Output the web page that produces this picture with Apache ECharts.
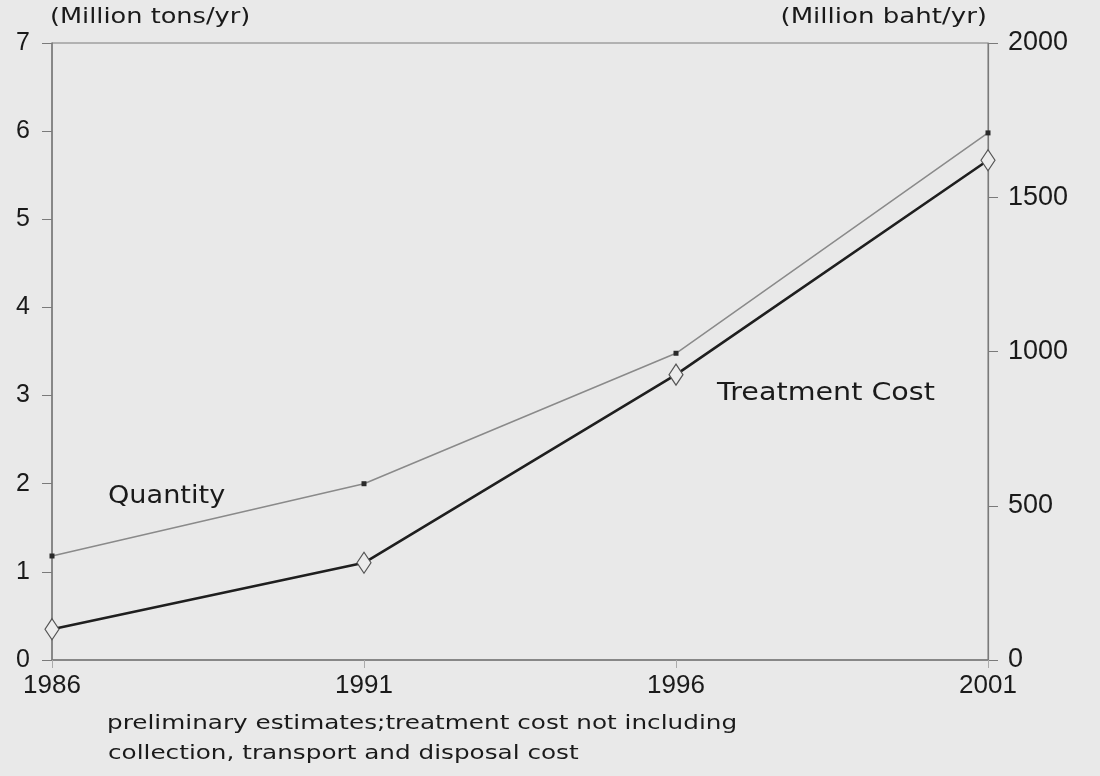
<!DOCTYPE html>
<html>
<head>
<meta charset="utf-8">
<script src="https://cdn.jsdelivr.net/npm/echarts@6/dist/echarts.min.js"></script>
<style>
  html, body { margin: 0; padding: 0; background: #e9e9e9; }
  #main { width: 1100px; height: 776px; }
</style>
</head>
<body>
<div id="main"></div>
<script>
// data
var years = ['1986', '1991', '1996', '2001'];
var quantity = [1.18, 2.0, 3.48, 5.98];        // million tons/yr (left axis)
var treatmentCost = [100, 315, 925, 1620];     // million baht/yr (right axis)
var leftTicks = [0, 1, 2, 3, 4, 5, 6, 7];
var rightTicks = [0, 500, 1000, 1500, 2000];

var chart = echarts.init(document.getElementById('main'), null, { renderer: 'canvas' });

var axisCol = '#7a7a7a';
var textCol = '#1a1a1a';

// the scanned labels are letter-spaced, so stretch them a little
function label(text, x, y, size, scale, align) {
  return {
    type: 'text', x: x, y: y, scaleX: scale,
    style: {
      text: text, fill: textCol, font: size + 'px "DejaVu Sans"',
      textAlign: align || 'left', textVerticalAlign: 'middle'
    }
  };
}

var option = {
  backgroundColor: '#e9e9e9',
  animation: false,
  grid: {
    left: 52, right: 112, top: 43, bottom: 116,
    show: true, borderColor: axisCol, borderWidth: 1, backgroundColor: 'transparent'
  },
  xAxis: {
    type: 'category',
    data: years,
    boundaryGap: false,
    axisLine: { lineStyle: { color: axisCol, width: 1.5 } },
    axisTick: { show: true, length: 8, lineStyle: { color: '#aaa' } },
    axisLabel: { color: textCol, fontSize: 26, fontFamily: 'Liberation Sans', margin: 13 },
    splitLine: { show: false }
  },
  yAxis: [{
    type: 'value',
    min: leftTicks[0], max: leftTicks[leftTicks.length - 1], interval: 1,
    axisLine: { show: true, lineStyle: { color: axisCol, width: 1.5 } },
    axisTick: { show: true, length: 10, lineStyle: { color: axisCol } },
    axisLabel: { color: textCol, fontSize: 25, fontFamily: 'Liberation Sans', margin: 22 },
    splitLine: { show: false }
  }, {
    type: 'value',
    position: 'right',
    min: rightTicks[0], max: rightTicks[rightTicks.length - 1], interval: 500,
    axisLine: { show: true, lineStyle: { color: axisCol, width: 1.2 } },
    axisTick: { show: true, length: 10, lineStyle: { color: axisCol } },
    axisLabel: {
      color: textCol, fontSize: 27, fontFamily: 'Liberation Sans', margin: 20,
      formatter: function (v) { return String(v); }
    },
    splitLine: { show: false }
  }],
  series: [{
    name: 'Quantity',
    type: 'line',
    yAxisIndex: 0,
    data: quantity,
    symbol: 'rect',
    symbolSize: 5,
    lineStyle: { color: '#8a8a8a', width: 1.5 },
    itemStyle: { color: '#2a2a2a' }
  }, {
    name: 'Treatment Cost',
    type: 'line',
    yAxisIndex: 1,
    data: treatmentCost,
    symbol: 'diamond',
    symbolSize: [14, 21],
    lineStyle: { color: '#1f1f1f', width: 2.6 },
    itemStyle: { color: '#ececec', borderColor: '#555', borderWidth: 1.2 },
    z: 3
  }],
  graphic: [
    label('(Million tons/yr)', 50, 18, 21, 1.22),
    label('(Million baht/yr)', 987, 18, 21, 1.24, 'right'),
    label('Quantity', 108, 497, 24, 1.13),
    label('Treatment Cost', 717, 394, 24, 1.19),
    label('preliminary estimates;treatment cost not including', 107, 724, 19, 1.3),
    label('collection, transport and disposal cost', 108, 754, 19, 1.3)
  ]
};

chart.setOption(option);
</script>
</body>
</html>
